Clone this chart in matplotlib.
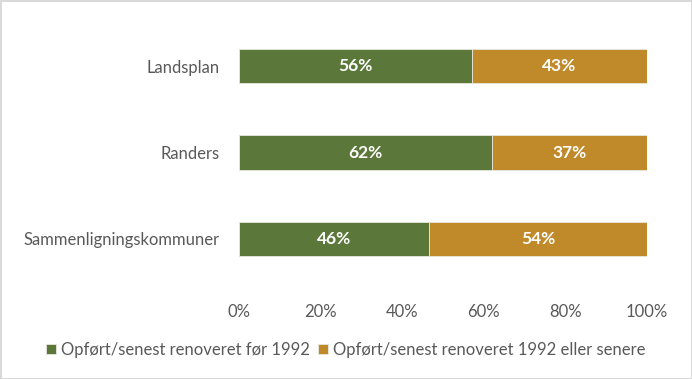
import matplotlib.pyplot as plt
import numpy as np

categories = ["Landsplan", "Randers", "Sammenligningskommuner"]
before_1992 = [0.57, 0.62, 0.465]
after_1992 = [0.43, 0.38, 0.535]
before_labels = ["56%", "62%", "46%"]
after_labels = ["43%", "37%", "54%"]
series_names = ["Opført/senest renoveret før 1992",
                "Opført/senest renoveret 1992 eller senere"]
xticks = [0, 0.2, 0.4, 0.6, 0.8, 1.0]

green = "#5b773a"
orange = "#c08a2a"
grey = "#595959"

plt.rcParams['font.family'] = ['Lato', 'DejaVu Sans']
fs = 12

fig = plt.figure(figsize=(6.92, 3.79), dpi=100, edgecolor="#d9d9d9", linewidth=2)
ax = fig.add_axes([239 / 692, 1 - 282 / 379, 408 / 692, 259 / 379])

y = np.arange(len(categories))
b1 = ax.barh(y, before_1992, height=0.4, color=green, edgecolor="#e8e8e0", linewidth=0.6,
             label=series_names[0])
b2 = ax.barh(y, after_1992, left=before_1992, height=0.4, color=orange, edgecolor="#e8e8e0",
             linewidth=0.6, label=series_names[1])

for i in range(len(categories)):
    ax.text(before_1992[i] / 2, y[i], before_labels[i], ha="center", va="center",
            color="white", fontsize=12.5, fontweight="bold")
    ax.text(before_1992[i] + after_1992[i] / 2, y[i], after_labels[i], ha="center", va="center",
            color="white", fontsize=12.5, fontweight="bold")

ax.set_xlim(0, 1)
ax.set_ylim(len(categories) - 0.5, -0.5)
ax.set_yticks(y)
ax.set_yticklabels(categories, fontsize=fs, color=grey)
ax.set_xticks(xticks)
ax.set_xticklabels([f"{int(t * 100)}%" for t in xticks], fontsize=fs, color=grey)
ax.tick_params(axis="both", length=0)
ax.tick_params(axis="x", pad=16)
ax.tick_params(axis="y", pad=14)
for s in ax.spines.values():
    s.set_visible(False)

fig.legend(handles=[b1, b2], loc="center", bbox_to_anchor=(0.5, 1 - 350 / 379), ncol=2,
           frameon=False, fontsize=fs, labelcolor=grey, handlelength=0.6, handleheight=0.6,
           handletextpad=0.3, columnspacing=0.5)

fig.savefig("out.png", dpi=100)
